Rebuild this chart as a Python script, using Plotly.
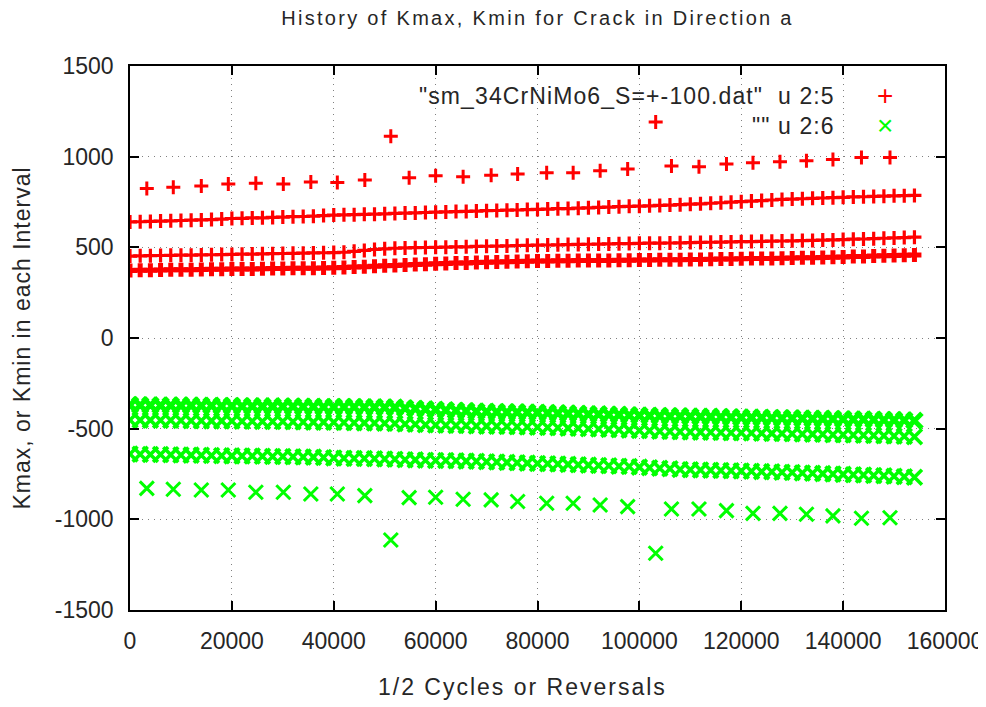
import plotly.graph_objects as go

# ---------------- data ----------------
X_BAND = [0, 2000, 4000, 6000, 8000, 10000, 12000, 14000, 16000, 18000,
          20000, 22000, 24000, 26000, 28000, 30000, 32000, 34000, 36000, 38000,
          40000, 42000, 44000, 46000, 48000, 50000, 52000, 54000, 56000, 58000,
          60000, 62000, 64000, 66000, 68000, 70000, 72000, 74000, 76000, 78000,
          80000, 82000, 84000, 86000, 88000, 90000, 92000, 94000, 96000, 98000,
          100000, 102000, 104000, 106000, 108000, 110000, 112000, 114000, 116000, 118000,
          120000, 122000, 124000, 126000, 128000, 130000, 132000, 134000, 136000, 138000,
          140000, 142000, 144000, 146000, 148000, 150000, 152000, 154000]

KMAX_A = [640, 641, 643, 645, 646, 648, 650, 651, 653, 656,
          659, 660, 662, 663, 665, 667, 669, 670, 672, 675,
          678, 679, 680, 682, 683, 685, 687, 689, 690, 692,
          694, 695, 697, 698, 700, 702, 703, 705, 706, 708,
          709, 711, 713, 714, 716, 718, 720, 722, 724, 726,
          727, 729, 731, 733, 735, 738, 740, 743, 746, 749,
          752, 755, 758, 761, 764, 766, 768, 770, 772, 774,
          776, 778, 779, 781, 782, 784, 785, 786]

KMAX_B = [452, 453, 454, 455, 456, 457, 457, 458, 459, 460,
          461, 462, 463, 464, 465, 466, 467, 468, 469, 470,
          471, 473, 478, 483, 488, 492, 495, 497, 498, 499,
          500, 501, 502, 503, 505, 506, 507, 508, 510, 511,
          512, 513, 514, 515, 516, 517, 518, 519, 520, 521,
          522, 523, 523, 524, 525, 526, 527, 528, 529, 530,
          531, 532, 533, 534, 535, 536, 537, 538, 540, 541,
          543, 545, 546, 548, 550, 552, 554, 556]

KMAX_C = [372, 373, 374, 375, 376, 377, 377, 378, 379, 379,
          380, 381, 381, 382, 383, 383, 384, 385, 385, 386,
          387, 389, 391, 393, 395, 398, 400, 403, 405, 407,
          409, 411, 413, 414, 416, 418, 419, 420, 422, 423,
          424, 425, 426, 426, 427, 427, 428, 428, 429, 429,
          430, 430, 431, 431, 432, 433, 433, 434, 435, 436,
          437, 438, 439, 439, 440, 441, 442, 443, 444, 446,
          447, 449, 450, 452, 453, 455, 456, 458]

KMIN_A = [-370, -371, -371, -372, -372, -373, -373, -374, -374, -375,
          -375, -376, -376, -377, -377, -378, -378, -379, -379, -380,
          -380, -381, -381, -382, -382, -383, -384, -387, -390, -393,
          -396, -399, -401, -403, -405, -407, -408, -409, -410, -411,
          -412, -414, -415, -417, -418, -420, -421, -423, -424, -426,
          -427, -429, -430, -431, -432, -433, -434, -435, -436, -437,
          -438, -439, -440, -441, -442, -443, -444, -445, -446, -447,
          -448, -449, -450, -451, -452, -453, -454, -456]

KMIN_B = [-452, -453, -453, -454, -454, -455, -456, -456, -457, -457,
          -458, -459, -459, -460, -461, -461, -462, -463, -464, -464,
          -465, -466, -467, -468, -469, -470, -472, -474, -476, -478,
          -480, -481, -482, -483, -485, -486, -487, -488, -489, -491,
          -492, -493, -495, -497, -498, -500, -502, -504, -506, -508,
          -510, -512, -514, -516, -517, -518, -519, -520, -521, -522,
          -523, -524, -525, -526, -527, -528, -529, -530, -531, -533,
          -534, -535, -536, -538, -539, -541, -542, -544]

KMIN_C = [-640, -641, -642, -643, -644, -645, -646, -647, -648, -649,
          -650, -651, -651, -652, -653, -654, -655, -656, -657, -659,
          -662, -663, -664, -665, -666, -667, -669, -671, -672, -674,
          -675, -676, -677, -679, -680, -682, -684, -686, -688, -690,
          -692, -694, -695, -697, -699, -701, -703, -705, -707, -709,
          -712, -715, -718, -721, -725, -727, -728, -729, -731, -732,
          -734, -735, -737, -738, -740, -742, -744, -746, -748, -750,
          -752, -754, -756, -758, -760, -762, -765, -768]

PEAK_X = [3300, 8500, 14000, 19300, 24700, 30100, 35500, 40700, 46100, 51200,
          54800, 60000, 65400, 70900, 76100, 81800, 87000, 92300, 97700, 103200,
          106300, 111700, 117100, 122300, 127600, 132800, 138000, 143600, 149200]

KMAX_PEAK = [825, 831, 838, 849, 853, 849, 860, 858, 871, 1113,
             884, 895, 889, 898, 904, 911, 911, 922, 932, 1191,
             948, 944, 959, 966, 972, 977, 985, 996, 996]

KMIN_PEAK = [-829, -834, -838, -838, -851, -851, -860, -860, -869, -1114,
             -880, -878, -889, -893, -902, -911, -911, -921, -930, -1187,
             -943, -943, -952, -967, -967, -972, -981, -994, -991]

X_TICKS = [0, 20000, 40000, 60000, 80000, 100000, 120000, 140000, 160000]
Y_TICKS = [-1500, -1000, -500, 0, 500, 1000, 1500]

TITLE = "History of Kmax, Kmin for Crack in Direction a"
X_LABEL = "1/2 Cycles or Reversals"
Y_LABEL = "Kmax, or Kmin in each Interval"
NAME_MAX = '"sm_34CrNiMo6_S=+-100.dat"\u00a0\u00a0u 2:5'
NAME_MIN = '""\u00a0u 2:6'

RED = "#ff0000"
GREEN = "#00ff00"
TEXT = "#262626"
FONT = "Liberation Sans, Arial, sans-serif"


def spaced(s, px):
    return '<span style="letter-spacing:%.1fpx">%s</span>' % (px, s)


# ---------------- figure ----------------
fig = go.Figure()

red_sets = [(X_BAND, KMAX_A, 3.2), (X_BAND, KMAX_B, 3.2),
            (X_BAND, KMAX_C, 5.0), (PEAK_X, KMAX_PEAK, 3.0)]
for xs, ys, w in red_sets:
    fig.add_trace(go.Scatter(
        x=xs, y=ys, mode="markers", name=NAME_MAX, showlegend=False,
        marker=dict(symbol="cross-thin", size=10, color=RED,
                    line=dict(color=RED, width=w)),
    ))

green_sets = [(X_BAND, KMIN_A, 15, 5.0), (X_BAND, KMIN_B, 15, 3.6),
              (X_BAND, KMIN_C, 15, 3.6), (PEAK_X, KMIN_PEAK, 14, 3.0)]
for xs, ys, s, w in green_sets:
    fig.add_trace(go.Scatter(
        x=xs, y=ys, mode="markers", name=NAME_MIN, showlegend=False,
        marker=dict(symbol="x-thin", size=s, color=GREEN,
                    line=dict(color=GREEN, width=w)),
    ))

axis_common = dict(
    showline=True, linecolor="#000000", linewidth=1.5, mirror="allticks",
    ticks="inside", ticklen=9, tickwidth=1.5, tickcolor="#000000",
    showgrid=True, gridcolor="#808080", gridwidth=1, griddash="1px,5px",
    zeroline=False, automargin=False,
    tickfont=dict(family=FONT, size=23, color=TEXT),
    ticklabelstandoff=10,
)

fig.update_layout(
    width=986, height=707,
    margin=dict(l=122, r=49, t=58, b=105, autoexpand=False),
    paper_bgcolor="#ffffff", plot_bgcolor="#ffffff",
    title=dict(text=spaced(TITLE, 2.3), x=0.537, xanchor="center",
               y=0.986, yanchor="middle",
               font=dict(family=FONT, size=20, color=TEXT)),
    xaxis=dict(range=[0, 160000], tickvals=X_TICKS,
               ticktext=[str(v) for v in X_TICKS],
               **axis_common),
    yaxis=dict(range=[-1500, 1500], tickvals=Y_TICKS,
               ticktext=[str(v) for v in Y_TICKS],
               title=dict(text=spaced(Y_LABEL, 1.0), standoff=18,
                          font=dict(family=FONT, size=23, color=TEXT)),
               **axis_common),
    showlegend=False,
)

# x-axis label (gnuplot places it slightly left of the plot centre)
fig.add_annotation(xref="paper", yref="paper", x=0.481, y=0, yshift=-77,
                   xanchor="center", yanchor="middle", showarrow=False,
                   text=spaced(X_LABEL, 2.0),
                   font=dict(family=FONT, size=23, color=TEXT))

# gnuplot-style key: text right-aligned, sample symbol on the right
fig.add_annotation(xref="paper", yref="paper", x=0.867, y=0.944,
                   xanchor="right", yanchor="middle", showarrow=False,
                   text=spaced(NAME_MAX, 1.1), font=dict(family=FONT, size=23, color=TEXT))
fig.add_annotation(xref="paper", yref="paper", x=0.867, y=0.889,
                   xanchor="right", yanchor="middle", showarrow=False,
                   text=spaced(NAME_MIN, 1.1), font=dict(family=FONT, size=23, color=TEXT))
fig.add_annotation(xref="paper", yref="paper", x=0.926, y=0.946,
                   xanchor="center", yanchor="middle", showarrow=False,
                   text="+", font=dict(family=FONT, size=28, color=RED))
fig.add_annotation(xref="paper", yref="paper", x=0.926, y=0.891,
                   xanchor="center", yanchor="middle", showarrow=False,
                   text="\u00d7", font=dict(family=FONT, size=28, color=GREEN))

fig.write_html("out.html")
